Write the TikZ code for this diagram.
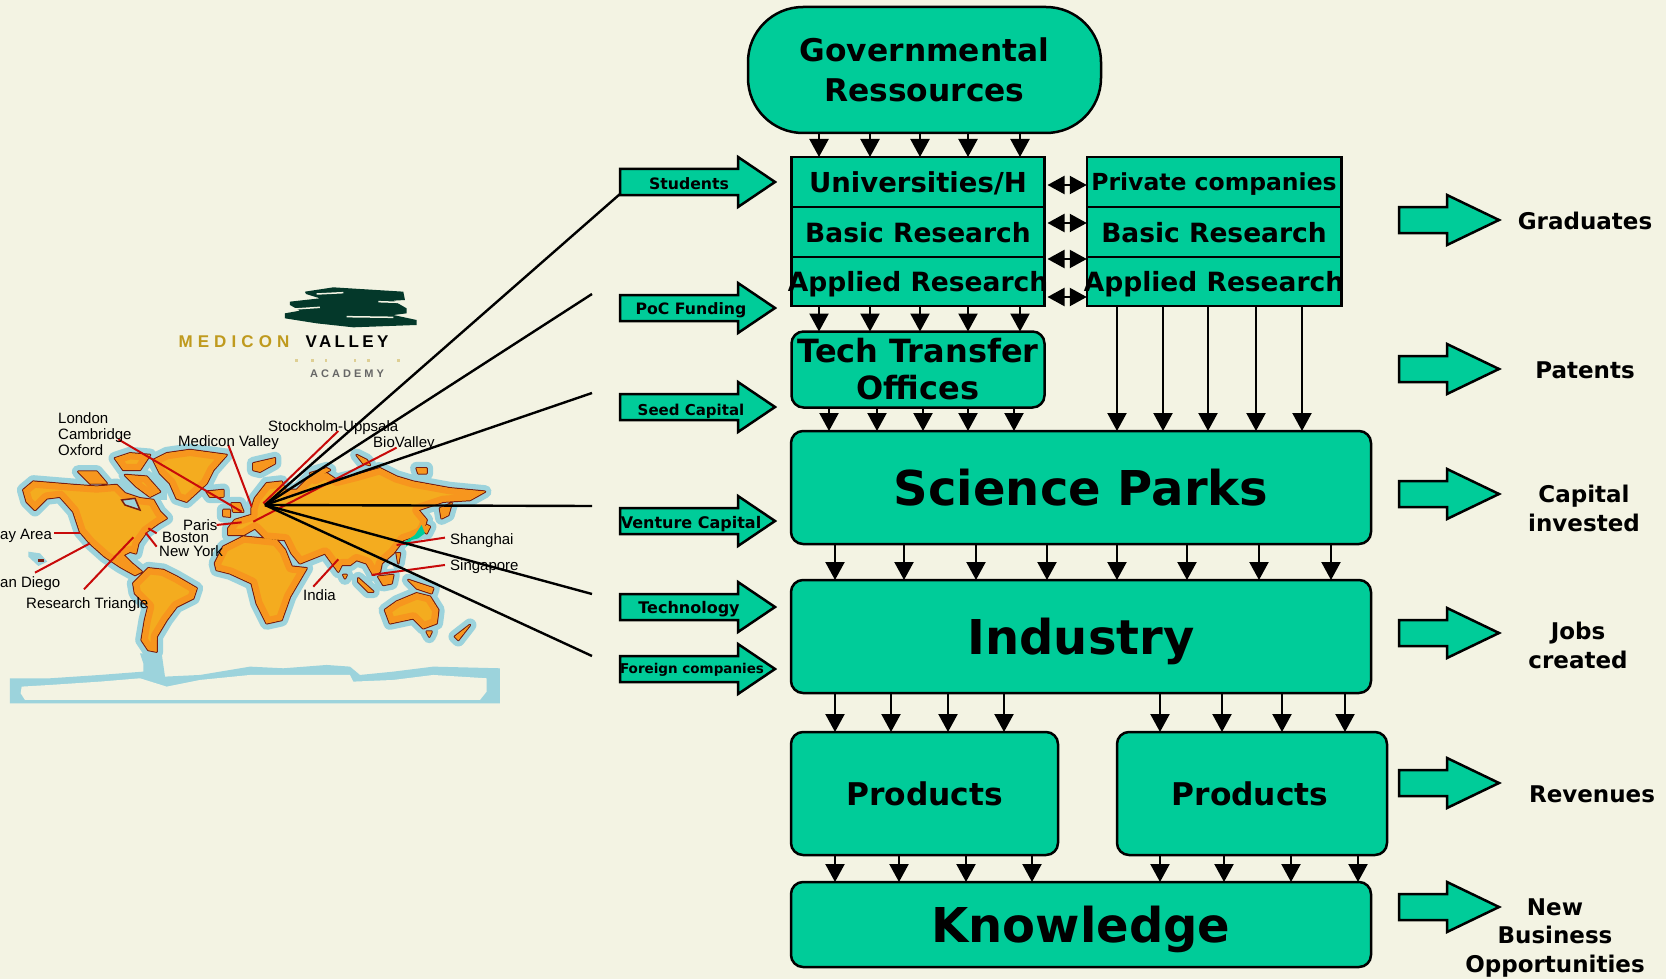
\documentclass[tikz,border=0pt]{standalone}
\usepackage{fontspec}
\setmainfont{DejaVu Sans}
\newfontfamily\mapfont{Liberation Sans}
\usetikzlibrary{arrows.meta,positioning}
\definecolor{paper}{HTML}{F3F3E3}
\definecolor{tealfill}{HTML}{00CC99}
\definecolor{seablue}{HTML}{9CD3DC}
\definecolor{rimred}{HTML}{7A1E10}
\definecolor{landlight}{HTML}{F4AC1F}
\definecolor{landdark}{HTML}{F7961E}
\definecolor{pinred}{HTML}{C80A0A}
\definecolor{logogreen}{HTML}{04382A}
\definecolor{logogold}{HTML}{BF9A1E}
\tikzset{
  tealbox/.style={draw=black,fill=tealfill,line width=2.5pt,inner sep=0pt,outer sep=0pt,align=center},
  roundbox/.style={tealbox,rounded corners=12pt},
  hugetext/.style={font=\bfseries\fontsize{48}{52}\selectfont,text depth=0pt},
  midtext/.style={font=\bfseries\fontsize{31.3}{40}\selectfont},
  rowtext/.style={font=\bfseries\fontsize{26.5}{30}\selectfont,text depth=0pt},
  sidetext/.style={font=\bfseries\fontsize{23}{29}\selectfont,align=center,inner sep=0pt},
  arrowtext/.style={font=\bfseries\fontsize{#1}{18}\selectfont,inner sep=0pt},
  maplabel/.style={font=\mapfont\fontsize{15}{16}\selectfont,inner sep=0pt,anchor=mid west,align=left,yshift=-3pt},
  logotext/.style={font=\mapfont\bfseries\fontsize{17}{17}\selectfont\addfontfeature{LetterSpace=#1},inner sep=0pt},
  flow/.style={line width=2.2pt,-{Triangle[length=18pt,width=19pt]}},
  both/.style={line width=2.2pt,{Triangle[length=17pt,width=18pt]}-{Triangle[length=17pt,width=18pt]}},
  spoke/.style={line width=2.4pt,black},
  pin/.style={line width=2pt,pinred},
  blockarrow/.style={draw=black,fill=tealfill,line width=2.5pt,line join=miter}
}
\newcommand{\landpaths}{
  (40,150) -- (70,125) -- (130,130) -- (190,135) -- (260,140) -- (320,135) -- (345,160) -- (390,175) -- (430,180) -- (450,215) -- (470,235) -- (445,250) -- (410,275) -- (385,310) -- (378,340) -- (360,335) -- (340,345) -- (365,370) -- (395,395) -- (375,405) -- (330,380) -- (285,350) -- (240,310) -- (210,275) -- (190,215) -- (150,170) -- (110,175) -- (75,210) -- (50,185) -- cycle
  (370,430) -- (415,385) -- (460,390) -- (500,410) -- (560,445) -- (550,475) -- (500,500) -- (470,540) -- (440,590) -- (440,635) -- (415,630) -- (395,600) -- (405,540) -- (415,500) -- (375,460) -- cycle
  (430,60) -- (470,40) -- (540,30) -- (650,45) -- (610,90) -- (590,130) -- (530,185) -- (500,175) -- (480,130) -- (450,100) -- cycle
  (315,55) -- (360,40) -- (420,45) -- (390,90) -- (340,90) -- cycle
  (205,95) -- (260,95) -- (290,130) -- (240,130) -- cycle
  (345,105) -- (410,110) -- (450,155) -- (420,170) -- (380,140) -- cycle
  (590,155) -- (640,150) -- (640,170) -- (600,170) -- cycle
  (730,70) -- (795,55) -- (795,70) -- (750,95) -- (730,90) -- cycle
  (665,190) -- (690,190) -- (700,215) -- (670,215) -- cycle
  (640,210) -- (660,210) -- (660,230) -- (640,228) -- cycle
  (655,265) -- (675,240) -- (725,225) -- (725,205) -- (735,175) -- (770,130) -- (815,125) -- (825,150) -- (860,150) -- (900,110) -- (950,100) -- (980,120) -- (1040,105) -- (1110,85) -- (1160,110) -- (1210,125) -- (1320,145) -- (1425,155) -- (1380,180) -- (1300,185) -- (1240,205) -- (1225,210) -- (1250,240) -- (1240,275) -- (1210,290) -- (1180,300) -- (1150,340) -- (1115,370) -- (1110,395) -- (1090,405) -- (1070,370) -- (1040,360) -- (1020,375) -- (995,375) -- (985,395) -- (945,340) -- (920,350) -- (870,370) -- (845,340) -- (825,300) -- (765,295) -- (735,265) -- (700,285) -- (655,285) -- cycle
  (615,370) -- (640,320) -- (700,290) -- (800,300) -- (825,330) -- (845,380) -- (890,385) -- (840,470) -- (815,540) -- (770,550) -- (740,490) -- (725,430) -- (660,400) -- (620,390) -- cycle
  (1040,45) -- (1070,60) -- (1080,75) -- (1060,70) -- cycle
  (900,100) -- (950,85) -- (960,90) -- (915,115) -- cycle
  (1220,85) -- (1250,85) -- (1250,100) -- (1225,100) -- cycle
  (1290,205) -- (1325,190) -- (1315,225) -- (1295,235) -- cycle
  (1250,255) -- (1260,260) -- (1250,280) -- (1238,270) -- cycle
  (1045,415) -- (1090,455) -- (1075,455) -- (1045,425) -- cycle
  (1105,410) -- (1150,405) -- (1145,430) -- (1120,435) -- cycle
  (1195,420) -- (1270,445) -- (1265,460) -- (1220,445) -- cycle
  (1160,340) -- (1170,340) -- (1165,370) -- cycle
  (1000,405) -- (1010,405) -- (1005,415) -- cycle
  (1125,510) -- (1160,485) -- (1220,460) -- (1260,470) -- (1285,510) -- (1280,550) -- (1240,565) -- (1210,535) -- (1140,550) -- cycle
  (1250,575) -- (1265,575) -- (1258,590) -- cycle
  (1335,590) -- (1380,555) -- (1345,600) -- cycle
}
\begin{document}
\begin{tikzpicture}[x=1pt,y=-1pt]
\useasboundingbox (0,0) rectangle (1666,979);
\fill[paper] (0,0) rectangle (1666,979);
%% ice
\begin{scope}[shift={(0,270)},x=.3333pt,y=-.3333pt]
  \fill[seablue] (30,1225) -- (150,1225) -- (300,1215) -- (430,1205) -- (430,1180) -- (420,1150) -- (485,1150) -- (495,1220) -- (600,1215) -- (750,1190) -- (850,1195) -- (980,1185) -- (1050,1190) -- (1080,1215) -- (1180,1205) -- (1300,1190) -- (1500,1195) -- (1500,1300) -- (30,1300) -- cycle;
  \fill[paper] (65,1250) -- (150,1245) -- (300,1235) -- (420,1225) -- (500,1250) -- (600,1230) -- (750,1215) -- (1050,1215) -- (1060,1235) -- (1180,1230) -- (1300,1215) -- (1460,1225) -- (1460,1265) -- (1440,1290) -- (75,1290) -- (62,1270) -- cycle;
\end{scope}
%% land
\begin{scope}[shift={(10,440)},x=.3333pt,y=-.3333pt]
  \fill[seablue] (55,335) -- (90,340) -- (112,365) -- (85,378) -- (55,350) -- cycle;
  \fill[rimred] (85,358) rectangle (102,366);
  \draw[seablue,fill=seablue,line width=13pt,line join=round] \landpaths;
  \fill[seablue] (330,100) rectangle (470,180);
  \draw[rimred,line width=2.5pt,line join=round] \landpaths;
  \fill[landdark] \landpaths;
  \begin{scope}
    \clip \landpaths;
    \fill[landlight] \landpaths;
    \draw[landdark,line width=12pt,line join=round] \landpaths;
  \end{scope}
  \draw[rimred,fill=seablue,line width=1.5pt] (335,180) -- (375,175) -- (390,210) -- (345,195) -- cycle;
  \fill[tealfill] (1185,305) -- (1215,285) -- (1235,255) -- (1245,280) -- (1225,295) -- (1205,300) -- (1190,320) -- cycle;
\end{scope}
\begin{scope}[shift={(0,270)},x=.3333pt,y=-.3333pt]
  %% logo
  \fill[logogreen] (915,65) -- (1000,52) -- (1210,65) -- (1215,90) -- (1180,92) -- (1220,115) -- (1220,130) -- (1180,135) -- (1250,150) -- (1250,165) -- (1060,172) -- (950,160) -- (855,145) -- (855,130) -- (900,122) -- (870,105) -- (870,95) -- (960,85) -- (918,72) -- cycle;
  \draw[paper,line width=1.5pt] (950,72) -- (1030,68);
  \draw[paper,line width=1.5pt] (1135,95) -- (1225,98);
  \draw[paper,line width=1.5pt] (870,118) -- (960,112);
  \draw[paper,line width=1.5pt] (1040,140) -- (1180,142);
  \foreach \xx in {890,937,978,1065,1105,1195}
    \fill[logogold!40!paper] (\xx-4,268) rectangle (\xx+4,276);
  %% city lines
  \draw[pin] (355,508) -- (725,725);
  \draw[pin] (685,525) -- (755,710);
  \draw[pin] (1015,483) -- (790,700);
  \draw[pin] (1190,533) -- (760,755);
  \draw[pin] (650,765) -- (725,757);
  \draw[pin] (162,788) -- (240,788);
  \draw[pin] (105,908) -- (270,820);
  \draw[pin] (252,958) -- (400,802);
  \draw[pin] (470,830) -- (437,788);
  \draw[pin] (470,790) -- (445,775);
  \draw[pin] (1015,868) -- (940,950);
  \draw[pin] (1335,803) -- (1190,825);
  \draw[pin] (1335,885) -- (1115,915);
\end{scope}
\node[logotext=30,text=logogold] (medicon) at (234,342) {MEDICON};
\node[logotext=20] (valley) at (347,342) {VALLEY};
\node[font=\mapfont\bfseries\fontsize{11}{11}\selectfont,text=black!60,inner sep=0pt] (academy) at (347,374) {A C A D E M Y};
\node[maplabel] (london) at (58,450) {London\\Cambridge\\Oxford};
\node[maplabel] (medval) at (178,441) {Medicon Valley};
\node[maplabel] (stock) at (268,426) {Stockholm-Uppsala};
\node[maplabel] (biov) at (373,442) {BioValley};
\node[maplabel] (paris) at (183,525) {Paris};
\node[maplabel] (boston) at (162,537) {Boston};
\node[maplabel] (newyork) at (159,551) {New York};
\node[maplabel] (bayarea) at (0,534) {ay Area};
\node[maplabel] (sandiego) at (0,582) {an Diego};
\node[maplabel] (triangle) at (26,603) {Research Triangle};
\node[maplabel] (shanghai) at (450,539) {Shanghai};
\node[maplabel] (singapore) at (450,565) {Singapore};
\node[maplabel] (india) at (303,595) {India};
%% boxes
\node[roundbox,rounded corners=55pt,midtext,minimum width=353pt,minimum height=126pt] (gov) at (924.5,70) {Governmental\\Ressources};
\node[tealbox,rowtext,font=\bfseries\fontsize{27.5}{30}\selectfont,minimum width=253pt,minimum height=50pt] (uni) at (918,182) {Universities/H};
\node[tealbox,rowtext,minimum width=253pt,minimum height=50pt] (basicl) at (918,232) {Basic Research};
\node[tealbox,rowtext,minimum width=253pt,minimum height=49pt] (appl) at (918,281.5) {\makebox[0pt]{Applied Research}};
\node[tealbox,rowtext,font=\bfseries\fontsize{23.5}{30}\selectfont,minimum width=254.5pt,minimum height=50pt] (priv) at (1214,182) {Private companies};
\node[tealbox,rowtext,minimum width=254.5pt,minimum height=50pt] (basicr) at (1214,232) {Basic Research};
\node[tealbox,rowtext,minimum width=254.5pt,minimum height=49pt] (appr) at (1214,281.5) {\makebox[0pt]{Applied Research}};
\node[roundbox,font=\bfseries\fontsize{32}{37}\selectfont,minimum width=253pt,minimum height=76pt] (tech) at (918,369.5) {Tech Transfer\\Offices};
\node[roundbox,hugetext,minimum width=580pt,minimum height=113pt] (parks) at (1081,487.5) {Science Parks};
\node[roundbox,hugetext,minimum width=580pt,minimum height=113pt] (industry) at (1081,636.5) {Industry};
\node[roundbox,midtext,minimum width=267pt,minimum height=123pt] (prodl) at (924.5,793.5) {Products};
\node[roundbox,midtext,minimum width=270pt,minimum height=123pt] (prodr) at (1252,793.5) {Products\hspace{4pt}};
\node[roundbox,hugetext,minimum width=580pt,minimum height=85pt] (know) at (1081,924.5) {Knowledge};
%% connectors
\foreach \xx in {819,870,920,968,1020} \draw[flow] (\xx,0 |- gov.south) -- (\xx,0 |- uni.north);
\foreach \xx in {819,870,920,968,1020} \draw[flow] (\xx,0 |- appl.south) -- (\xx,0 |- tech.north);
\foreach \xx in {829,877,923,968,1014} \draw[flow] (\xx,0 |- tech.south) -- (\xx,0 |- parks.north);
\foreach \xx in {1117,1163,1208,1256,1302} \draw[flow] (\xx,0 |- appr.south) -- (\xx,0 |- parks.north);
\foreach \xx in {835,904,976,1047,1117,1187,1259,1331} \draw[flow] (\xx,0 |- parks.south) -- (\xx,0 |- industry.north);
\foreach \xx in {835,891,948,1004} \draw[flow] (\xx,0 |- industry.south) -- (\xx,0 |- prodl.north);
\foreach \xx in {1160,1222,1282,1345} \draw[flow] (\xx,0 |- industry.south) -- (\xx,0 |- prodr.north);
\foreach \xx in {835,899,966,1032} \draw[flow] (\xx,0 |- prodl.south) -- (\xx,0 |- know.north);
\foreach \xx in {1160,1224,1291,1358} \draw[flow] (\xx,0 |- prodr.south) -- (\xx,0 |- know.north);
\foreach \yy in {185,223,259,297} \draw[both,shorten <=3pt] (uni.east |- 0,\yy) -- (priv.west |- 0,\yy);
%% block arrows
\foreach \yy in {182,308,407,521,607,669}
  \draw[blockarrow] (620,\yy-13) -- (738,\yy-13) -- (738,\yy-25) -- (775,\yy) -- (738,\yy+25) -- (738,\yy+13) -- (620,\yy+13) -- cycle;
\foreach \yy in {220,369,494,633,783,907}
  \draw[blockarrow] (1399,\yy-13) -- (1447,\yy-13) -- (1447,\yy-25) -- (1499,\yy) -- (1447,\yy+25) -- (1447,\yy+13) -- (1399,\yy+13) -- cycle;
\node[arrowtext=15.7] (students) at (689,184) {Students};
\node[arrowtext=15.7] (poc) at (691,310) {PoC Funding};
\node[arrowtext=15] (seed) at (691,411) {Seed Capital};
\node[arrowtext=16] (venture) at (691,524) {Venture Capital};
\node[arrowtext=16] (technology) at (689,609) {Technology};
\node[arrowtext=13.5] (foreign) at (692,670) {Foreign companies};
\node[sidetext] (graduates) at (1585,221) {Graduates};
\node[sidetext] (patents) at (1585,370) {Patents};
\node[sidetext] (capital) at (1584,508) {Capital\\invested};
\node[sidetext] (jobs) at (1578,645) {Jobs\\created};
\node[sidetext] (revenues) at (1592,794) {Revenues};
\node[sidetext] (newbiz) at (1555,938) {New\\Business\\Opportunities};
%% spokes
\coordinate (hub) at (265,505);
\coordinate (endA) at (620,194);
\coordinate (endB) at (592,294);
\coordinate (endC) at (592,393);
\coordinate (endD) at (592,506);
\coordinate (endE) at (592,594);
\coordinate (endF) at (592,656);
\foreach \ee in {endA,endB,endC,endD,endE,endF} \draw[spoke] (hub) -- (\ee);
\end{tikzpicture}
\end{document}
